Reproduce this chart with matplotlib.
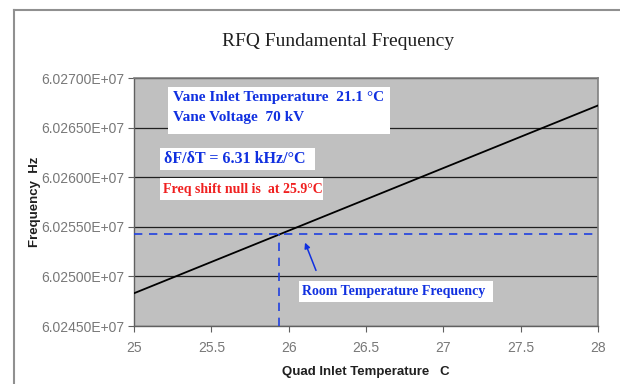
import matplotlib
matplotlib.use("Agg")
import matplotlib.pyplot as plt
from matplotlib.patches import Rectangle
from matplotlib.ticker import FuncFormatter

# Data
temps = [25.0, 28.0]
freqs = [6.02483e7, 6.026723e7]
room_temp = 25.94
room_freq = 6.025427e7
x_ticks = [25, 25.5, 26, 26.5, 27, 27.5, 28]
y_ticks = [6.0245e7, 6.0250e7, 6.0255e7, 6.0260e7, 6.0265e7, 6.0270e7]

title = "RFQ Fundamental Frequency"
x_label = "Quad Inlet Temperature   C"
y_label = "Frequency  Hz"

fig = plt.figure(figsize=(6.2, 3.84), dpi=100)
fig.patch.set_facecolor("white")

# outer chart border
fig.add_artist(plt.Line2D([14/620, 14/620], [0, 1-10/384], color="#909090", lw=1.5, transform=fig.transFigure))
fig.add_artist(plt.Line2D([14/620, 1], [1-10/384, 1-10/384], color="#909090", lw=1.5, transform=fig.transFigure))

ax = fig.add_axes([134/620, 1-326/384, 464/620, 248/384])
ax.set_facecolor("#C0C0C0")
ax.set_xlim(25, 28)
ax.set_ylim(6.0245e7, 6.0270e7)
ax.set_xticks(x_ticks)
ax.set_yticks(y_ticks)
ax.set_xticklabels([f"{t:g}" for t in x_ticks])
ax.yaxis.set_major_formatter(FuncFormatter(lambda v, p: f"{v:.5E}"))
ax.grid(axis="y", color="#202020", lw=0.9)
ax.set_axisbelow(True)
for s in ["top", "right"]:
    ax.spines[s].set_color("#808080")
    ax.spines[s].set_linewidth(1.2)
for s in ["left", "bottom"]:
    ax.spines[s].set_color("#606060")
    ax.spines[s].set_linewidth(1.0)
ax.tick_params(direction="out", length=4, color="#606060", labelsize=10,
               labelcolor="#787878", labelfontfamily="Liberation Sans")
ax.tick_params(axis="y", pad=3)
ax.tick_params(axis="x", pad=7)

ax.plot(temps, freqs, color="black", lw=1.3, zorder=3)
ax.axhline(room_freq, color="#2040E0", lw=1.2, ls=(0, (5, 4)), zorder=3)
ax.plot([room_temp, room_temp], [6.0245e7, room_freq], color="#2040E0", lw=1.2, ls=(0, (5, 4)), zorder=3)

fig.text(338/620, 1-42/384, title, ha="center", va="center", fontsize=14,
         family="Liberation Serif", color="#202020")
ax.set_xlabel(x_label, fontsize=9.5, fontweight="bold", family="Liberation Sans", color="#202020", labelpad=8)
ax.set_ylabel(y_label, fontsize=9.5, fontweight="bold", family="Liberation Sans", color="#202020", labelpad=0)

blue = "#1030E0"

# text boxes (positions in figure pixel coordinates)
def ftxt(x, y, s, color, size=10.5, **kw):
    fig.text(x/620, 1-y/384, s, color=color, family="Liberation Serif", fontweight="bold",
             fontsize=size, va="center", ha="left", **kw)

fig.patches.append(Rectangle((168/620, 1-134/384), 222/620, 47/384, transform=fig.transFigure,
                             fc="white", ec="none", zorder=2))
ftxt(173, 98, "Vane Inlet Temperature  21.1 °C", blue, size=11, zorder=3)
ftxt(173, 117, "Vane Voltage  70 kV", blue, size=11, zorder=3)
fig.patches.append(Rectangle((160/620, 1-170/384), 155/620, 22/384, transform=fig.transFigure,
                             fc="white", ec="none", zorder=2))
ftxt(164, 159, "δF/δT = 6.31 kHz/°C", blue, size=11.5, zorder=3)
fig.patches.append(Rectangle((160/620, 1-200/384), 163/620, 22/384, transform=fig.transFigure,
                             fc="white", ec="none", zorder=2))
ftxt(163, 189, "Freq shift null is  at 25.9°C", "#F02020", size=10, zorder=3)
fig.patches.append(Rectangle((299/620, 1-302/384), 194/620, 21/384, transform=fig.transFigure,
                             fc="white", ec="none", zorder=2))
ftxt(302, 291, "Room Temperature Frequency", blue, size=10, zorder=3)

ax.annotate("", xy=(304, 384-240), xycoords="figure pixels",
            xytext=(317, 384-273), textcoords="figure pixels",
            arrowprops=dict(arrowstyle="-|>", color=blue, lw=1.1, mutation_scale=8))

fig.savefig("out.png", dpi=100, facecolor="white")
